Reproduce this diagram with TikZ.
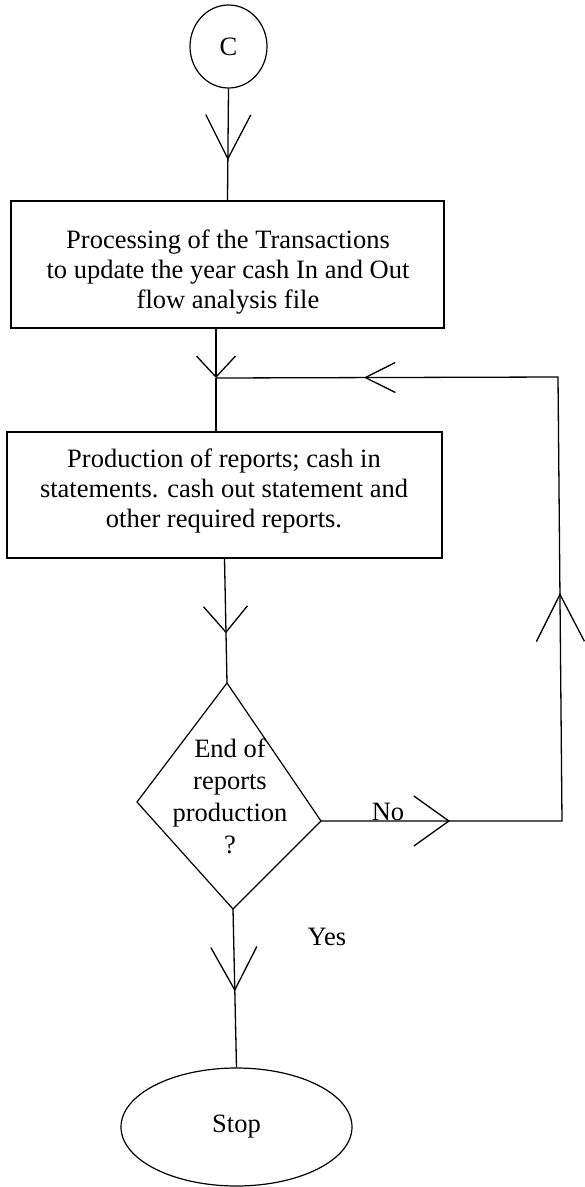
\documentclass[tikz,border=0pt]{standalone}
\usepackage{fontspec}
\setmainfont{Liberation Serif}
\usetikzlibrary{shapes.geometric,arrows.meta,decorations.markings}
\tikzset{
  every node/.style={font=\fontsize{26.5}{30}\selectfont},
  ln/.style={line width=1.3pt, black},
  boxshape/.style={draw, line width=1.2pt, inner sep=0pt},
  txt/.style={align=center, inner sep=0pt},
  midarr/.style n args={3}{postaction={decorate},
    decoration={markings, mark=at position #1 with {\arrow{Straight Barb[length=#2pt,width=#3pt,line width=1.3pt]}}}},
}
\begin{document}
\begin{tikzpicture}[x=1pt,y=-1pt]
\useasboundingbox (0,0) rectangle (585,1187);
% nodes
\node[boxshape, ellipse, minimum width=77pt, minimum height=83pt] (C) at (228.5,46.5) {C};
\node[boxshape, minimum width=433pt, minimum height=127pt] (box1) at (227.5,264.5) {};
\node[txt] (t1) at (228,272) {Processing of the Transactions\\to update the year cash In and Out\\flow analysis file};
\node[boxshape, minimum width=435pt, minimum height=126pt] (box2) at (224.5,495) {};
\node[txt] (t2) at (224,491) {Production of reports; cash in\\statements. cash out statement and\\other required reports.};
\coordinate (dT) at (227,683);
\coordinate (dL) at (137,802);
\coordinate (dR) at (321,821);
\coordinate (dB) at (233,909);
\draw[boxshape] (dT) -- (dR) -- (dB) -- (dL) -- cycle;
\node[txt, font=\fontsize{26.5}{32}\selectfont] (dq) at (230,796) {End of\\reports\\production\\?};
\node[boxshape, ellipse, minimum width=231pt, minimum height=118pt] (stop) at (236.5,1127) {Stop};
\node (no) at (388,812) {No};
\node (yes) at (327,937) {Yes};
\coordinate (J) at (216,378);
\coordinate (fR) at (562,821);
\coordinate (fT) at (558,377);
% connectors
\draw[ln, midarr={0.64}{44}{45}] (C.south) -- (box1.north);
\draw[ln, -{Straight Barb[length=21pt,width=39pt,line width=1.3pt]}] (box1.south -| J) -- (J);
\draw[ln] (J) -- (J |- box2.north);
\draw[ln, midarr={0.6}{26}{44}] (box2.south) -- (dT);
\draw[ln, postaction={decorate}, decoration={markings,
   mark=at position 0.1256 with {\arrow{Straight Barb[length=35pt,width=50pt,line width=1.3pt]}},
   mark=at position 0.4567 with {\arrow{Straight Barb[length=47pt,width=48pt,line width=1.3pt]}},
   mark=at position 0.856 with {\arrow{Straight Barb[length=30pt,width=30pt,line width=1.3pt]}}}]
   (dR) -- (fR) -- (fT) -- (J);
\draw[ln, midarr={0.52}{43}{46}] (dB) -- (stop.north);
\end{tikzpicture}
\end{document}
